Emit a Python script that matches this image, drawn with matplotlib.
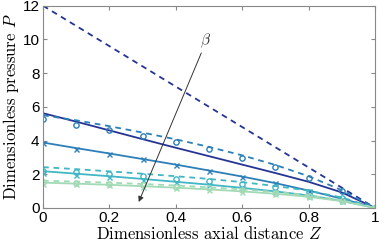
import matplotlib
matplotlib.use("Agg")
import matplotlib.pyplot as plt

plt.rcParams["mathtext.fontset"] = "cm"

NAVY = "#253494"
BLUE = "#2c7fb8"
CYAN = "#41b6c4"
GREEN = "#a1dab4"

z = [0, 0.1, 0.2, 0.3, 0.4, 0.5, 0.6, 0.7, 0.8, 0.9, 1.0]

# navy pair
p_navy_dash = [12.0, 10.8, 9.6, 8.4, 7.2, 6.0, 4.8, 3.6, 2.4, 1.2, 0.0]
p_navy_solid = [5.62, 5.12, 4.6, 4.08, 3.57, 3.07, 2.57, 2.07, 1.55, 0.92, 0.0]

# blue pair
p_blue_dash = [5.5, 5.2, 4.85, 4.47, 4.07, 3.62, 3.12, 2.55, 1.88, 1.05, 0.0]
p_blue_circ = [5.3, 4.95, 4.62, 4.28, 3.9, 3.47, 2.98, 2.42, 1.75, 0.98, 0.0]
p_blue_solid = [3.88, 3.55, 3.23, 2.9, 2.57, 2.22, 1.86, 1.47, 1.03, 0.55, 0.0]
p_blue_x = [3.85, 3.52, 3.2, 2.88, 2.56, 2.22, 1.84, 1.45, 1.0, 0.52, 0.0]

# cyan pair
p_cyan_dash = [2.42, 2.3, 2.17, 2.03, 1.88, 1.72, 1.53, 1.3, 1.02, 0.62, 0.0]
p_cyan_circ = [2.22, 2.12, 2.0, 1.87, 1.74, 1.6, 1.43, 1.22, 0.97, 0.6, 0.0]
p_cyan_solid = [2.18, 2.03, 1.88, 1.72, 1.55, 1.38, 1.19, 0.98, 0.74, 0.42, 0.0]
p_cyan_x = [2.05, 1.95, 1.82, 1.67, 1.52, 1.36, 1.17, 0.96, 0.72, 0.42, 0.0]

# green pair
p_green_dash = [1.62, 1.56, 1.5, 1.42, 1.33, 1.22, 1.1, 0.95, 0.75, 0.46, 0.0]
p_green_circ = [1.52, 1.47, 1.41, 1.34, 1.26, 1.16, 1.05, 0.9, 0.72, 0.44, 0.0]
p_green_solid = [1.5, 1.44, 1.37, 1.29, 1.2, 1.1, 0.98, 0.84, 0.66, 0.4, 0.0]
p_green_x = [1.44, 1.4, 1.34, 1.27, 1.19, 1.09, 0.97, 0.83, 0.65, 0.4, 0.0]

xticks = [0, 0.2, 0.4, 0.6, 0.8, 1]
xticklabels = ["0", "0.2", "0.4", "0.6", "0.8", "1"]
yticks = [0, 2, 4, 6, 8, 10, 12]

fig = plt.figure(figsize=(3.79, 2.49), dpi=100)
ax = fig.add_axes([0.1135, 0.165, 0.876, 0.812])

lw = 1.3
dash_pat = (3.2, 2.6)
ax.plot(z, p_navy_dash, "--", color=NAVY, lw=lw, dashes=dash_pat)
ax.plot(z, p_navy_solid, "-", color=NAVY, lw=lw)

for dash, circ, solid, xs, c in [
    (p_blue_dash, p_blue_circ, p_blue_solid, p_blue_x, BLUE),
    (p_cyan_dash, p_cyan_circ, p_cyan_solid, p_cyan_x, CYAN),
    (p_green_dash, p_green_circ, p_green_solid, p_green_x, GREEN),
]:
    ax.plot(z, dash, "--", color=c, lw=lw, dashes=dash_pat)
    ax.plot(z, solid, "-", color=c, lw=lw)
    ax.plot(z, circ, "o", color=c, mfc="none", ms=3.8, mew=1.0)
    ax.plot(z, xs, "x", color=c, ms=3.6, mew=1.0)

ax.set_xlim(0, 1)
ax.set_ylim(0, 12)
ax.set_xticks(xticks)
ax.set_xticklabels(xticklabels)
ax.set_yticks(yticks)
ax.tick_params(direction="in", length=3, color="#888888", labelsize=11,
               top=True, right=True, pad=2.5)
for s in ax.spines.values():
    s.set_color("#888888")
    s.set_linewidth(0.8)
for lab in ax.get_xticklabels() + ax.get_yticklabels():
    lab.set_fontfamily("Liberation Sans")

ax.set_xlabel("Dimensionless axial distance $Z$", fontsize=12,
              fontfamily="cmr10", labelpad=0)
ax.set_ylabel("Dimensionless pressure $P$", fontsize=12,
              fontfamily="cmr10", labelpad=1)

ax.annotate("", xy=(0.285, 0.2), xytext=(0.48, 9.35),
            arrowprops=dict(arrowstyle="-|>", color="#333333", lw=0.7,
                            mutation_scale=8))
ax.text(0.488, 9.9, r"$\beta$", fontsize=11, ha="center", va="center",
        color="#333333")

fig.savefig("out.png", dpi=100)
